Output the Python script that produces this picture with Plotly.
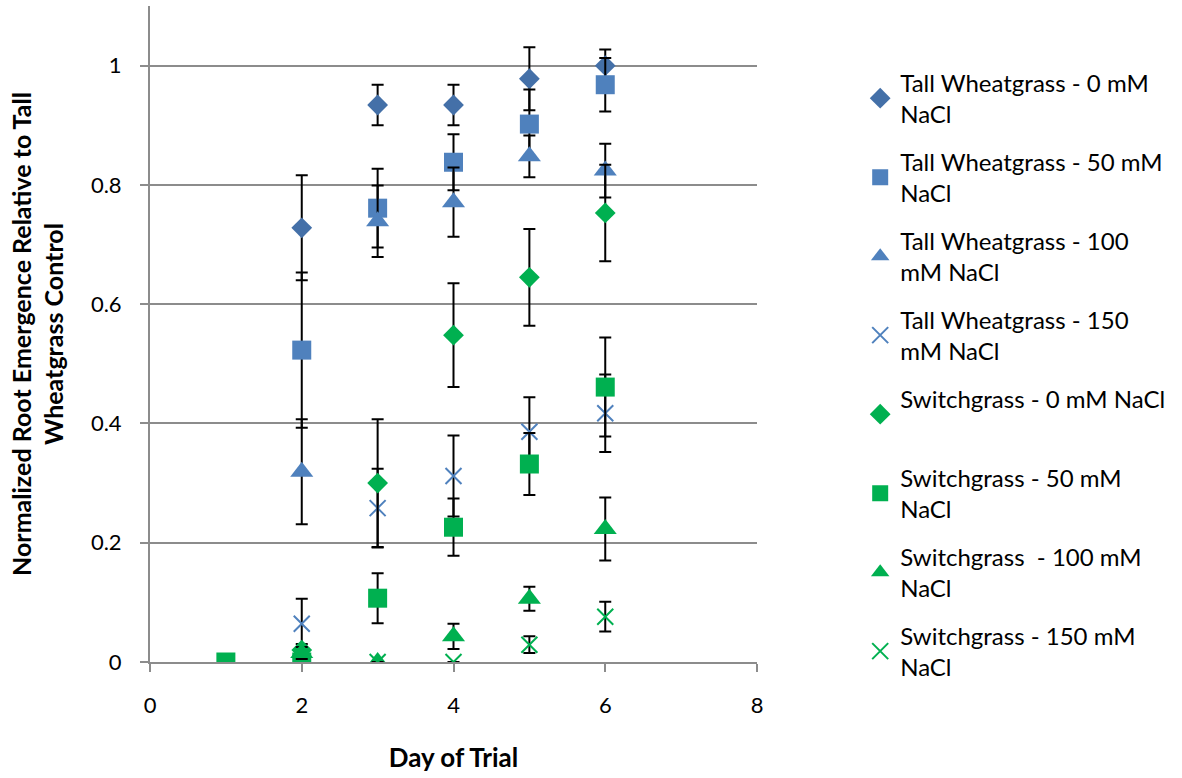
import plotly.graph_objects as go

# Day of trial for each series
days_tw = [2, 3, 4, 5, 6]
days_sg0 = [2, 3, 4, 5, 6]
days_sg50 = [1, 2, 3, 4, 5, 6]
days_sg100 = [2, 3, 4, 5, 6]
days_sg150 = [3, 4, 5, 6]

# Normalized root emergence (mean) and error (± value)
tw_0 = [0.728, 0.934, 0.934, 0.978, 1.0]
tw_0_err = [0.088, 0.034, 0.034, 0.053, 0.027]
tw_50 = [0.523, 0.761, 0.838, 0.902, 0.968]
tw_50_err = [0.13, 0.066, 0.047, 0.058, 0.045]
tw_100 = [0.319, 0.739, 0.771, 0.848, 0.824]
tw_100_err = [0.088, 0.06, 0.058, 0.035, 0.045]
tw_150 = [0.064, 0.258, 0.312, 0.386, 0.417]
tw_150_err = [0.042, 0.066, 0.068, 0.058, 0.065]

sg_0 = [0.02, 0.300, 0.548, 0.645, 0.753]
sg_0_err = [0.01, 0.107, 0.087, 0.081, 0.081]
sg_50 = [0.0, 0.0, 0.107, 0.226, 0.332, 0.461]
sg_50_err = [0.0, 0.0, 0.042, 0.048, 0.052, 0.083]
sg_100 = [0.015, 0.0, 0.043, 0.106, 0.223]
sg_100_err = [0.01, 0.0, 0.021, 0.02, 0.053]
sg_150 = [0.0, 0.0, 0.029, 0.076]
sg_150_err = [0.0, 0.0, 0.014, 0.025]

names = [
    "Tall Wheatgrass - 0 mM<br>NaCl",
    "Tall Wheatgrass - 50 mM<br>NaCl",
    "Tall Wheatgrass - 100<br>mM NaCl",
    "Tall Wheatgrass - 150<br>mM NaCl",
    "Switchgrass - 0 mM NaCl<br> ",
    "Switchgrass - 50 mM<br>NaCl",
    "Switchgrass  - 100 mM<br>NaCl",
    "Switchgrass - 150 mM<br>NaCl",
]

DARK_BLUE = "#4470A8"
BLUE = "#4F81BD"
GREEN = "#00B050"

series = [
    (days_tw, tw_0, tw_0_err, "diamond", DARK_BLUE, 16),
    (days_tw, tw_50, tw_50_err, "square", BLUE, 19),
    (days_tw, tw_100, tw_100_err, "triangle-up", BLUE, 20),
    (days_tw, tw_150, tw_150_err, "x-thin", BLUE, 16),
    (days_sg0, sg_0, sg_0_err, "diamond", GREEN, 16),
    (days_sg50, sg_50, sg_50_err, "square", GREEN, 19),
    (days_sg100, sg_100, sg_100_err, "triangle-up", GREEN, 20),
    (days_sg150, sg_150, sg_150_err, "x-thin", GREEN, 16),
]

FONT = "Lato"

fig = go.Figure()
for i, (x, y, err, sym, col, size) in enumerate(series):
    marker = dict(symbol=sym, color=col, size=size)
    if sym.startswith("x"):
        marker["line"] = dict(color=col, width=2)
    fig.add_trace(go.Scatter(
        x=x, y=y, mode="markers", name=names[i],
        legendgroup=f"g{i}",
        marker=marker,
        error_y=dict(type="data", array=err, visible=True,
                     color="black", thickness=2, width=6),
    ))

AX_GRAY = "#8C8C8C"

fig.update_layout(
    width=1182, height=778,
    margin=dict(l=150, r=425, t=6, b=116),
    paper_bgcolor="white", plot_bgcolor="white",
    font=dict(family=FONT, size=22, color="black"),
    xaxis=dict(
        range=[0, 8], tickvals=[0, 2, 4, 6, 8],
        showgrid=False, zeroline=False,
        showline=True, linecolor=AX_GRAY, linewidth=2,
        ticks="outside", ticklen=8, tickcolor=AX_GRAY, tickwidth=2,
        ticklabelstandoff=15,
        title=dict(text="<b>Day of Trial</b>", standoff=31,
                   font=dict(family=FONT, size=26)),
    ),
    yaxis=dict(
        range=[0, 1.1], tickvals=[0, 0.2, 0.4, 0.6, 0.8, 1.0],
        ticktext=["0", "0.2", "0.4", "0.6", "0.8", "1"],
        showgrid=True, gridcolor=AX_GRAY, gridwidth=2,
        zeroline=False,
        showline=True, linecolor=AX_GRAY, linewidth=2,
        ticks="outside", ticklen=8, tickcolor=AX_GRAY, tickwidth=2,
        ticklabelstandoff=14,
        title=dict(text="<b>Normalized Root Emergence Relative to Tall<br>Wheatgrass Control</b>",
                   standoff=20, font=dict(family=FONT, size=25)),
    ),
    legend=dict(
        x=1.17, xanchor="left", y=0.917, yanchor="top",
        tracegroupgap=13.6, font=dict(family=FONT, size=24),
        bgcolor="rgba(0,0,0,0)",
    ),
)

fig.write_html("out.html")
